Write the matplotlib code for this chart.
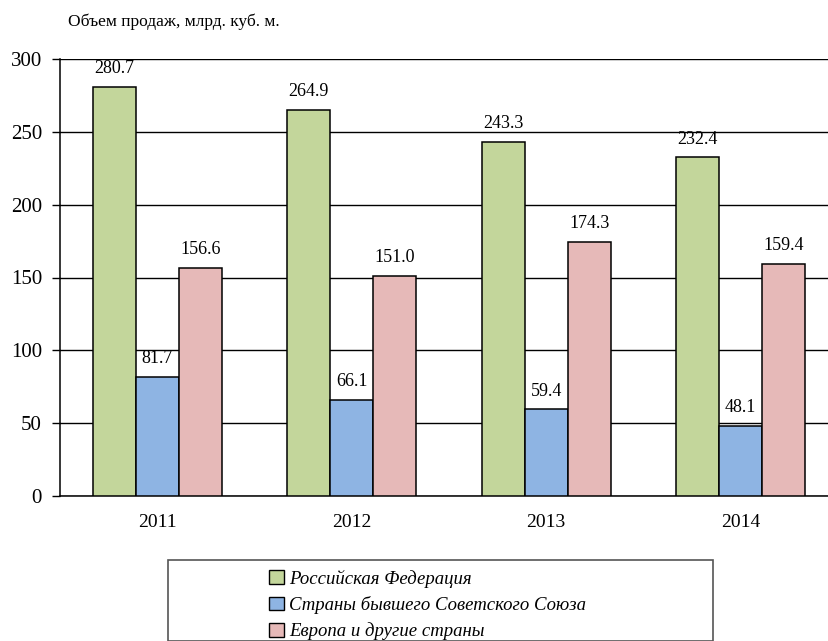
import numpy as np
import matplotlib
matplotlib.use('Agg')
from matplotlib import pyplot as plt
from matplotlib.patches import Patch, Rectangle

years = ['2011', '2012', '2013', '2014']
series_names = ['Российская Федерация',
                'Страны бывшего Советского Союза',
                'Европа и другие страны']
russia = [280.7, 264.9, 243.3, 232.4]
ex_ussr = [81.7, 66.1, 59.4, 48.1]
europe = [156.6, 151.0, 174.3, 159.4]
colors = ['#C3D69B', '#8EB4E3', '#E6B9B8']

plt.rcParams['font.family'] = ['Liberation Serif', 'DejaVu Serif']

fig = plt.figure(figsize=(8.29, 6.41), dpi=100)
ax = fig.add_axes([60/829, 145/641, 778/829, 437/641])

x = np.arange(len(years))
w = 0.221
for k, vals in enumerate([russia, ex_ussr, europe]):
    pos = x + (k - 1) * w
    ax.bar(pos, vals, width=w, color=colors[k], edgecolor='black',
           linewidth=1.1, zorder=3)
    for px, v in zip(pos, vals):
        ax.annotate(f'{v:.1f}', (px, v), xytext=(0, 7), textcoords='offset points',
                    ha='center', va='bottom', fontsize=13, zorder=4)

ax.set_xlim(-0.5, 3.5)
ax.set_ylim(0, 300)
ax.set_yticks(range(0, 301, 50))
ax.set_xticks(x)
ax.set_xticklabels(years, fontsize=14)
ax.tick_params(axis='y', labelsize=15, length=6, width=1, direction='out', pad=7)
ax.tick_params(axis='x', length=0, pad=13)
ax.yaxis.grid(True, color='black', linewidth=1, zorder=0)
ax.set_axisbelow(True)
for side in ['top', 'right']:
    ax.spines[side].set_visible(False)
for side in ['left', 'bottom']:
    ax.spines[side].set_linewidth(1.1)

fig.text(68/829, 1 - 22/641, 'Объем продаж, млрд. куб. м.', fontsize=12.5,
         ha='left', va='center')

# legend frame below the chart
fig.patches.append(Rectangle((168/829, 0), 545/829, 1 - 560/641,
                             transform=fig.transFigure, facecolor='white',
                             edgecolor='#555555', linewidth=1.2))
handles = [Patch(facecolor=c, edgecolor='black', linewidth=1) for c in colors]
fig.legend(handles, series_names, loc='upper left',
           bbox_to_anchor=(262/829, 1 - 562/641), frameon=False,
           prop={'style': 'italic', 'size': 13.5}, handlelength=0.75,
           handleheight=0.75, handletextpad=0.3, labelspacing=0.45,
           borderaxespad=0)

fig.savefig('out.png', dpi=100)
